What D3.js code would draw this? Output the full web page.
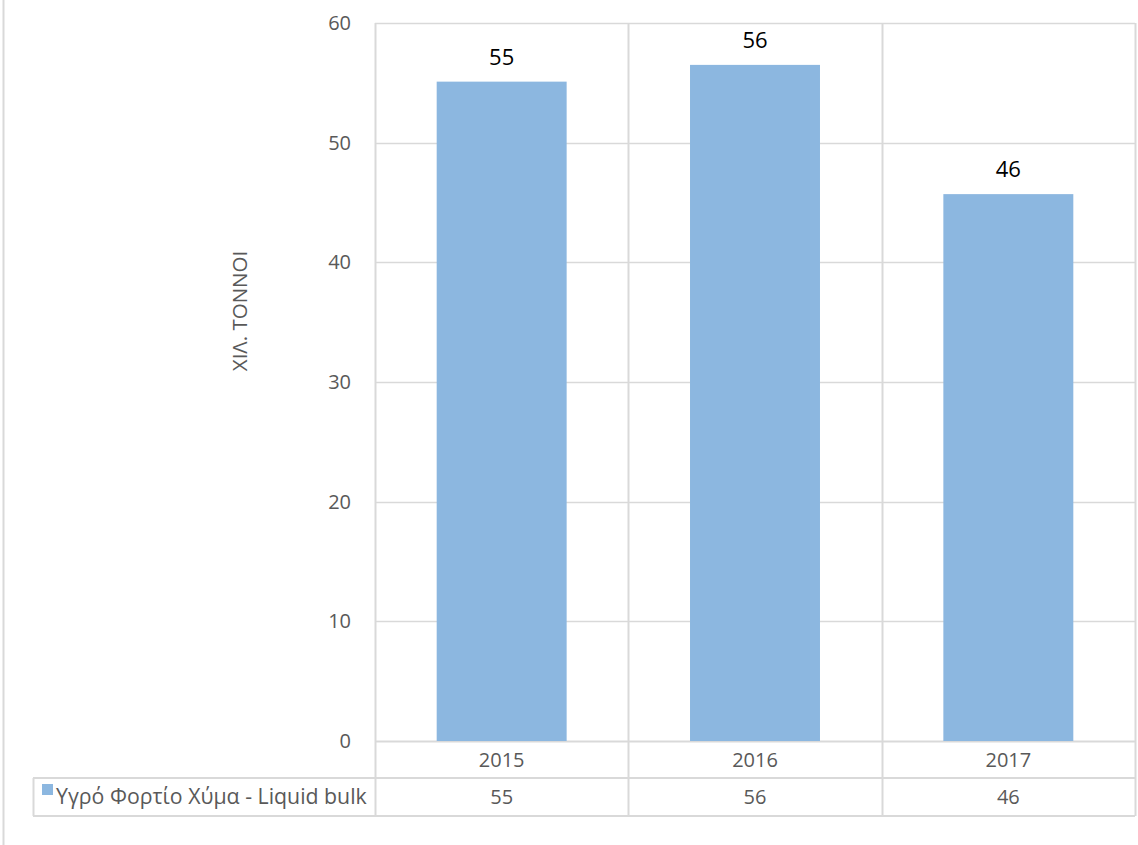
<!DOCTYPE html>
<html>
<head>
<meta charset="utf-8">
<script src="https://cdn.jsdelivr.net/npm/d3@7"></script>
<style>
  body { margin: 0; background: #fff; }
  text { font-family: "Open Sans", "Noto Sans", sans-serif; }
</style>
</head>
<body>
<div id="chart"></div>
<script>
const years = ['2015', '2016', '2017']
const values = [55.1, 56.5, 45.7]
const labels = ['55', '56', '46']
const yTicks = [0, 10, 20, 30, 40, 50, 60]
const seriesName = 'Υγρό Φορτίο Χύμα - Liquid bulk'
const axisTitle = 'ΧΙΛ. ΤΟΝΝΟΙ'

function draw() {
    const dimensions = {
        width: 1138,
        height: 845,
        plotLeft: 375,
        plotRight: 1135,
        plotTop: 23,
        plotBottom: 741,
        row1: 778,
        row2: 816,
        tableLeft: 33,
    }
    const gridColor = '#d9d9d9'
    const textColor = '#595959'

    const svg = d3.select('#chart')
        .append('svg')
        .attr('width', dimensions.width)
        .attr('height', dimensions.height)

    // outer chart border (left edge visible)
    svg.append('line')
        .attr('x1', 3.5).attr('x2', 3.5)
        .attr('y1', 0).attr('y2', dimensions.height)
        .attr('stroke', gridColor)
        .attr('stroke-width', 2)

    const xScale = d3.scaleBand()
        .domain(years)
        .range([dimensions.plotLeft, dimensions.plotRight])
        .paddingInner(0.487)
        .paddingOuter(0.2435)

    const yScale = d3.scaleLinear()
        .domain([0, 60])
        .range([dimensions.plotBottom, dimensions.plotTop])

    // horizontal gridlines
    svg.append('g')
        .selectAll('line')
        .data(yTicks)
        .join('line')
        .attr('x1', dimensions.plotLeft)
        .attr('x2', dimensions.plotRight)
        .attr('y1', d => Math.round(yScale(d)) + 0.5)
        .attr('y2', d => Math.round(yScale(d)) + 0.5)
        .attr('stroke', gridColor)
        .attr('stroke-width', d => d === 0 ? 2 : 1.5)

    // vertical cell lines
    const step = xScale.step()
    const xEdges = [dimensions.plotLeft].concat(years.map(y => xScale(y) - xScale.paddingOuter() * step + step))
    svg.append('g')
        .selectAll('line')
        .data(xEdges)
        .join('line')
        .attr('x1', d => Math.round(d) + 0.5)
        .attr('x2', d => Math.round(d) + 0.5)
        .attr('y1', dimensions.plotTop)
        .attr('y2', dimensions.row2)
        .attr('stroke', gridColor)
        .attr('stroke-width', 2)

    // table rows
    svg.append('line')
        .attr('x1', dimensions.plotLeft).attr('x2', dimensions.plotRight)
        .attr('y1', dimensions.row1).attr('y2', dimensions.row1)
        .attr('stroke', gridColor).attr('stroke-width', 2)
    svg.append('line')
        .attr('x1', dimensions.tableLeft).attr('x2', dimensions.plotRight)
        .attr('y1', dimensions.row2).attr('y2', dimensions.row2)
        .attr('stroke', gridColor).attr('stroke-width', 2)
    svg.append('line')
        .attr('x1', dimensions.tableLeft).attr('x2', dimensions.plotLeft)
        .attr('y1', dimensions.row1).attr('y2', dimensions.row1)
        .attr('stroke', gridColor).attr('stroke-width', 2)
    svg.append('line')
        .attr('x1', dimensions.tableLeft + 0.5).attr('x2', dimensions.tableLeft + 0.5)
        .attr('y1', dimensions.row1).attr('y2', dimensions.row2)
        .attr('stroke', gridColor).attr('stroke-width', 2)

    // bars
    svg.append('g')
        .selectAll('rect')
        .data(values)
        .join('rect')
        .attr('x', (d, i) => xScale(years[i]))
        .attr('y', d => yScale(d))
        .attr('width', xScale.bandwidth())
        .attr('height', d => yScale(0) - yScale(d))
        .attr('fill', '#8cb7e0')

    // data labels
    svg.append('g')
        .selectAll('text')
        .data(values)
        .join('text')
        .attr('x', (d, i) => xScale(years[i]) + xScale.bandwidth() / 2)
        .attr('y', d => yScale(d) - 17)
        .attr('text-anchor', 'middle')
        .attr('font-size', 22)
        .attr('fill', '#000')
        .text((d, i) => labels[i])

    // y axis labels
    const yAxis = d3.axisLeft(yScale)
        .tickValues(yTicks)
        .tickSize(0)
        .tickPadding(24)
    const yAxisGroup = svg.append('g')
        .attr('transform', `translate(${dimensions.plotLeft}, 0)`)
        .call(yAxis)
    yAxisGroup.select('.domain').remove()
    yAxisGroup.selectAll('text')
        .attr('font-size', 20)
        .attr('fill', textColor)
        .style('font-family', '"Open Sans", sans-serif')

    svg.append('text')
        .attr('transform', `translate(247, 311) rotate(-90)`)
        .attr('text-anchor', 'middle')
        .attr('font-size', 20.5)
        .attr('fill', textColor)
        .text(axisTitle)

    // table: years row
    svg.append('g')
        .selectAll('text')
        .data(years)
        .join('text')
        .attr('x', d => xScale(d) + xScale.bandwidth() / 2)
        .attr('y', (dimensions.plotBottom + dimensions.row1) / 2 + 7.5)
        .attr('text-anchor', 'middle')
        .attr('font-size', 20)
        .attr('fill', textColor)
        .text(d => d)

    // table: values row
    svg.append('g')
        .selectAll('text')
        .data(values)
        .join('text')
        .attr('x', (d, i) => xScale(years[i]) + xScale.bandwidth() / 2)
        .attr('y', (dimensions.row1 + dimensions.row2) / 2 + 6.5)
        .attr('text-anchor', 'middle')
        .attr('font-size', 20)
        .attr('fill', textColor)
        .text((d, i) => labels[i])

    // legend cell
    svg.append('rect')
        .attr('x', 42)
        .attr('y', 784)
        .attr('width', 11)
        .attr('height', 11)
        .attr('fill', '#8cb7e0')
    svg.append('text')
        .attr('x', 56)
        .attr('y', (dimensions.row1 + dimensions.row2) / 2 + 6.5)
        .attr('font-size', 21.3)
        .attr('fill', textColor)
        .text(seriesName)
}

draw()
</script>
</body>
</html>
